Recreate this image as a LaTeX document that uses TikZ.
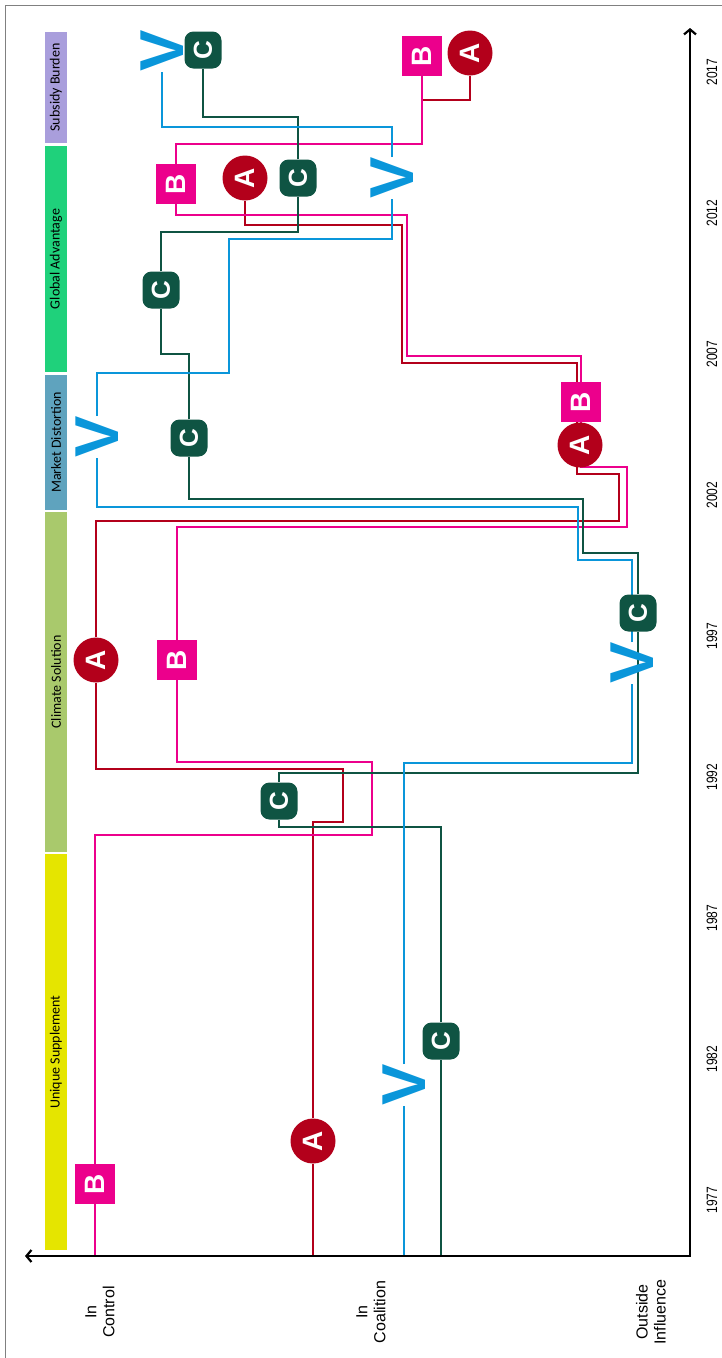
\documentclass[tikz,border=0pt]{standalone}
\usepackage{fontspec}
\setmainfont{Liberation Sans}
\newfontfamily\bandfont{Carlito}
\newfontfamily\narrowfont[FakeStretch=0.8]{Liberation Sans}
\usepackage{tikz}
\usetikzlibrary{arrows.meta,positioning}
\pgfdeclarelayer{background}
\pgfsetlayers{background,main}
\definecolor{actorA}{HTML}{B3001B}
\definecolor{actorB}{HTML}{EC008C}
\definecolor{actorC}{HTML}{0F5443}
\definecolor{actorV}{HTML}{0A96DA}
\definecolor{bandsub}{HTML}{A99EDC}
\definecolor{bandglob}{HTML}{1FD17B}
\definecolor{bandmkt}{HTML}{5FA3BE}
\definecolor{bandclim}{HTML}{A9C96C}
\definecolor{banduniq}{HTML}{E5E500}

\begin{document}
\begin{tikzpicture}[
  x=1pt,y=-1pt,
  band/.style={rotate=90,minimum height=22pt,inner sep=0pt,
               font=\bandfont\fontsize{14}{14}\selectfont},
  circA/.style={circle,fill=actorA,minimum size=45pt,inner sep=0pt,
                text=white,font=\bfseries\fontsize{28}{28}\selectfont},
  boxB/.style={rectangle,fill=actorB,minimum size=40pt,inner sep=0pt,
               text=white,font=\bfseries\fontsize{28}{28}\selectfont},
  boxC/.style={rectangle,rounded corners=9pt,fill=actorC,minimum size=37pt,
               inner sep=0pt,text=white,font=\bfseries\fontsize{26}{26}\selectfont},
  markV/.style={inner sep=0pt,text=actorV,font=\bfseries\fontsize{62}{62}\selectfont},
  track/.style={line width=2pt},
  axis/.style={line width=2.2pt,
               {Straight Barb[length=5pt,width=12pt]}-{Straight Barb[length=5pt,width=12pt]}},
  yearlab/.style={rotate=90,font=\narrowfont\fontsize{15}{15}\selectfont},
  levellab/.style={rotate=90,align=center,font=\fontsize{16}{18}\selectfont}
]
  \useasboundingbox (0,0) rectangle (722,1358);
  \draw[gray,line width=1pt] (722,5) -- (5,5) -- (5,1358);

  % storylines bands
  \node[band,fill=bandsub,minimum width=111pt] (subsidy) at (56,87.5) {Subsidy Burden};
  \node[band,fill=bandglob,minimum width=226pt] (global) at (56,259) {Global Advantage};
  \node[band,fill=bandmkt,minimum width=135pt] (market) at (56,442.5) {Market Distortion};
  \node[band,fill=bandclim,minimum width=340pt] (climate) at (56,682) {Climate Solution};
  \node[band,fill=banduniq,minimum width=396pt] (unique) at (56,1052) {Unique Supplement};

  % axes
  \coordinate (origin) at (690,1256);
  \coordinate (xend) at (25,1256);
  \coordinate (yend) at (690,28);
  \draw[axis] (xend) -- (origin) -- (yend);
  \foreach \yr [count=\i from 0] in {1977,1982,1987,1992,1997,2002,2007,2012,2017}
    \node[yearlab] (yr\yr) at (712,1200-\i*141) {\yr};
  \node[levellab] (control) at (100,1312) {In\\Control};
  \node[levellab] (coalition) at (371,1312) {In\\Coalition};
  \node[levellab] (outside) at (651,1312) {Outside\\Influence};

  % actor A
  \node[circA] (A1) at (313,1141) {\rotatebox{90}{A}};
  \node[circA] (A2) at (96,660) {\rotatebox{90}{A}};
  \node[circA] (A3) at (580,445) {\rotatebox{90}{A}};
  \node[circA] (A4) at (245,178) {\rotatebox{90}{A}};
  \node[circA] (A5) at (470,53) {\rotatebox{90}{A}};
  % actor B
  \node[boxB] (B1) at (95,1184) {\rotatebox{90}{B}};
  \node[boxB] (B2) at (177,660) {\rotatebox{90}{B}};
  \node[boxB] (B3) at (581,402) {\rotatebox{90}{B}};
  \node[boxB] (B4) at (176,184) {\rotatebox{90}{B}};
  \node[boxB] (B5) at (422,56) {\rotatebox{90}{B}};
  % actor C
  \node[boxC] (C1) at (441,1041) {\rotatebox{90}{C}};
  \node[boxC] (C2) at (279,801) {\rotatebox{90}{C}};
  \node[boxC] (C3) at (638,613) {\rotatebox{90}{C}};
  \node[boxC] (C4) at (189,438) {\rotatebox{90}{C}};
  \node[boxC] (C5) at (161,290) {\rotatebox{90}{C}};
  \node[boxC] (C6) at (298,178) {\rotatebox{90}{C}};
  \node[boxC] (C7) at (203,50) {\rotatebox{90}{C}};
  % actor V
  \node[markV] (V1) at (404,1085) {\rotatebox{90}{V}};
  \node[markV] (V2) at (632,663) {\rotatebox{90}{V}};
  \node[markV] (V3) at (97,437) {\rotatebox{90}{V}};
  \node[markV] (V4) at (392,178) {\rotatebox{90}{V}};
  \node[markV] (V5) at (162,51) {\rotatebox{90}{V}};

  \begin{pgfonlayer}{background}
    \draw[track,actorA] (A1 |- origin) -- (A1) |- (343,822) |- (96,769) -- (A2)
      |- (619,521) |- (577,474) -- (577,363) -| (402,225) -| (A4);
    \draw[track,actorA] (A5) |- (422,100);
    \draw[track,actorB] (B1 |- origin) -- (B1) -- (95,835) -| (372,762) -| (B2)
      |- (627,527) |- (581,467) -- (B3) |- (407,356) |- (176,215) -- (B4)
      |- (422,144) -- (B5);
    \draw[track,actorC] (C1 |- origin) -- (C1) |- (279,827) -- (C2) |- (638,773)
      -- (C3) |- (583,553) |- (189,499) -- (C4) |- (161,354) -- (C5)
      |- (298,232) -- (C6) |- (203,117) -- (C7);
    \draw[track,actorV] (V1 |- origin) -- (V1) |- (632,763) -- (V2) |- (578,560)
      |- (97,507) -- (V3) |- (229,373) |- (392,239) -- (V4) |- (162,127) -- (V5);
  \end{pgfonlayer}
\end{tikzpicture}
\end{document}
